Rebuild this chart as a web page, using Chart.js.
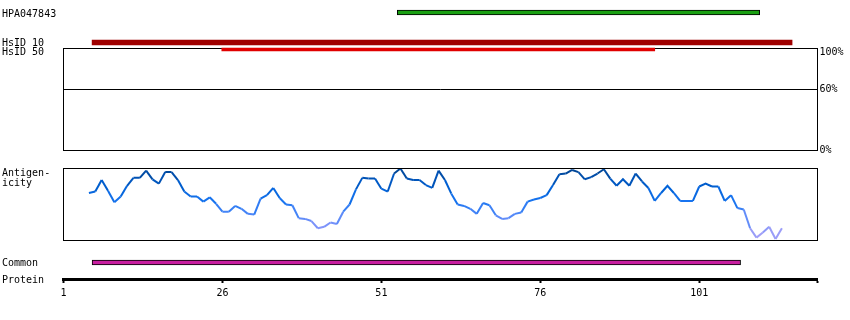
<!DOCTYPE html>
<html>
<head>
<meta charset="utf-8">
<title>HPA047843</title>
<script src="https://cdn.jsdelivr.net/npm/chart.js@4.4.1/dist/chart.umd.min.js"></script>
<style>
  body { margin: 0; background: #fff; }
  #wrap { position: relative; width: 850px; height: 320px; overflow: hidden; }
  #wrap canvas { position: absolute; left: 0; top: 0; }
  .lbl { position: absolute; left: 2px; font: 10px/10px 'DejaVu Sans Mono', monospace; color: #000; white-space: pre; }
</style>
</head>
<body>
<div id="wrap">
  <canvas id="identity" width="850" height="320"></canvas>
  <canvas id="antigen" width="850" height="320"></canvas>
  <canvas id="ruler" width="850" height="320"></canvas>
  <canvas id="hpa" width="850" height="320"></canvas>
  <canvas id="hsid" width="850" height="320"></canvas>

  <div class="lbl" style="top:8.5px">HPA047843</div>
  <div class="lbl" style="top:37.5px">HsID 10</div>
  <div class="lbl" style="top:46.5px">HsID 50</div>
  <div class="lbl" style="top:167.5px">Antigen-
icity</div>
  <div class="lbl" style="top:257.5px">Common</div>
  <div class="lbl" style="top:274.5px">Protein</div>
</div>

<script>
'use strict';

// ******* DATA *******
const proteinEnd = 119.6;
const rulerTicks = [1, 26, 51, 76, 101];
const identityTicks = [0, 60, 100];

const antibodyRange = [53.5, 110.5];
const hsid10Range = [5.5, 115.6];
const hsid50Range = [25.9, 94];
const commonRange = [5.5, 107.5];

// antigenicity score per residue, starting at residue 5
const antigenStart = 5;
const antigenValues = [
  66, 68, 84, 69, 53, 61, 76, 87, 87, 97,
  85, 79, 95, 95, 84, 68, 61, 61, 54, 60,
  51, 40, 40, 48, 44, 37, 36, 58, 63, 73,
  59, 50, 49, 31, 30, 27, 17, 19, 25, 23,
  40, 50, 71, 87, 86, 86, 72, 68, 93, 100,
  86, 84, 84, 77, 73, 97, 84, 65, 50, 48,
  44, 37, 52, 49, 35, 30, 31, 37, 39, 54,
  57, 59, 63, 77, 92, 93, 98, 95, 85, 88,
  93, 99, 86, 76, 85, 76, 93, 82, 73, 55,
  66, 76, 66, 55, 55, 55, 75, 79, 75, 75,
  55, 63, 45, 43, 17, 4, 11, 19, 2, 17
];

// ******* SHARED SETTINGS *******
const monoFont = { family: "'DejaVu Sans Mono', monospace", size: 10 };
Chart.defaults.animation = false;
Chart.defaults.responsive = false;
Chart.defaults.plugins.legend.display = false;
Chart.defaults.plugins.tooltip.enabled = false;
Chart.defaults.color = '#000';

function trackPadding(top, bottom, right = 32.5) {
  return { left: 63.5, right: right, top: top, bottom: 320 - bottom };
}

function residueAxis() {
  return { type: 'linear', min: 1, max: proteinEnd, display: false };
}

// draws the black box round a panel
const framePlugin = {
  id: 'frame',
  afterDraw(chart) {
    const { ctx, chartArea } = chart;
    ctx.save();
    ctx.strokeStyle = '#000';
    ctx.lineWidth = 1;
    ctx.strokeRect(chartArea.left, chartArea.top, chartArea.right - chartArea.left, chartArea.bottom - chartArea.top);
    ctx.restore();
  }
};

// colour of the antigenicity line, darker where the score is higher
const shadeStops = [
  [0, [180, 166, 246]],
  [20, [128, 148, 250]],
  [38, [74, 134, 248]],
  [55, [24, 116, 240]],
  [72, [0, 98, 216]],
  [88, [0, 80, 176]],
  [100, [0, 66, 140]]
];

function shade(v) {
  for (let i = 1; i < shadeStops.length; i++) {
    if (v <= shadeStops[i][0]) {
      let a = shadeStops[i - 1];
      let b = shadeStops[i];
      let t = (v - a[0]) / (b[0] - a[0]);
      let c = a[1].map((ch, k) => Math.round(ch + (b[1][k] - ch) * t));
      return `rgb(${c[0]}, ${c[1]}, ${c[2]})`;
    }
  }
  let last = shadeStops[shadeStops.length - 1][1];
  return `rgb(${last[0]}, ${last[1]}, ${last[2]})`;
}

// ******* ANTIBODY TRACK *******
new Chart(document.getElementById('hpa'), {
  type: 'bar',
  data: {
    labels: ['HPA047843'],
    datasets: [{
      data: [antibodyRange],
      backgroundColor: '#1aa012',
      borderColor: '#000',
      borderWidth: 1,
      borderSkipped: false,
      barThickness: 5
    }]
  },
  options: {
    indexAxis: 'y',
    layout: { padding: trackPadding(8, 17) },
    scales: { x: residueAxis(), y: { display: false } }
  }
});

// ******* SEQUENCE IDENTITY BARS *******
new Chart(document.getElementById('hsid'), {
  type: 'bar',
  data: {
    labels: ['HsID 10', 'HsID 50'],
    datasets: [{
      data: [hsid10Range, null],
      backgroundColor: '#a00000',
      borderWidth: 0,
      barThickness: 5,
      grouped: false
    }, {
      data: [null, hsid50Range],
      backgroundColor: '#e00000',
      borderWidth: 0,
      barThickness: 3,
      grouped: false
    }]
  },
  options: {
    indexAxis: 'y',
    layout: { padding: trackPadding(39, 53) },
    scales: { x: residueAxis(), y: { display: false } }
  }
});

// ******* IDENTITY PANEL *******
new Chart(document.getElementById('identity'), {
  type: 'line',
  data: { datasets: [] },
  options: {
    layout: { padding: trackPadding(48.5, 150.5, 0) },
    scales: {
      x: residueAxis(),
      y: {
        type: 'linear',
        position: 'right',
        min: 0,
        max: 100,
        afterBuildTicks: (scale) => { scale.ticks = identityTicks.map(v => ({ value: v })); },
        afterFit: (scale) => { scale.width = 32.5; },
        ticks: {
          padding: 2,
          font: { family: monoFont.family, size: 10, lineHeight: 0.8 },
          callback: (v) => v === 100 ? ['', v + '%'] : v + '%'
        },
        grid: { color: '#000', drawTicks: false },
        border: { color: '#000' }
      }
    }
  },
  plugins: [framePlugin]
});

// ******* ANTIGENICITY PANEL *******
let antigenPoints = [];
for (let i = 0; i < antigenValues.length; i++) {
  antigenPoints.push({ x: antigenStart + i, y: antigenValues[i] });
}

new Chart(document.getElementById('antigen'), {
  type: 'line',
  data: {
    datasets: [{
      data: antigenPoints,
      borderWidth: 2,
      pointRadius: 0,
      tension: 0,
      borderColor: '#1a70f0',
      segment: {
        borderColor: (ctx) => shade((ctx.p0.parsed.y + ctx.p1.parsed.y) / 2)
      }
    }]
  },
  options: {
    layout: { padding: trackPadding(168.5, 240.5) },
    scales: {
      x: residueAxis(),
      y: { type: 'linear', min: 0, max: 100, display: false }
    }
  },
  plugins: [framePlugin]
});

// ******* COMMON REGION AND PROTEIN RULER *******
new Chart(document.getElementById('ruler'), {
  type: 'bar',
  data: {
    labels: ['Common'],
    datasets: [{
      data: [commonRange],
      backgroundColor: '#c81ea0',
      borderColor: '#000',
      borderWidth: 1,
      borderSkipped: false,
      barThickness: 5
    }]
  },
  options: {
    indexAxis: 'y',
    layout: { padding: { left: 63.5, right: 32.5, top: 246, bottom: 0 } },
    scales: {
      x: {
        type: 'linear',
        min: 1,
        max: proteinEnd,
        afterBuildTicks: (scale) => { scale.ticks = rulerTicks.concat([proteinEnd]).map(v => ({ value: v })); },
        afterFit: (scale) => { scale.height = 41; },
        ticks: {
          autoSkip: false,
          maxRotation: 0,
          padding: 4,
          font: monoFont,
          callback: (v) => rulerTicks.includes(v) ? String(v) : ''
        },
        grid: { drawOnChartArea: false, tickLength: 4, tickColor: '#000', tickWidth: 2 },
        border: { color: '#000', width: 3 }
      },
      y: { display: false }
    }
  }
});
</script>
</body>
</html>
